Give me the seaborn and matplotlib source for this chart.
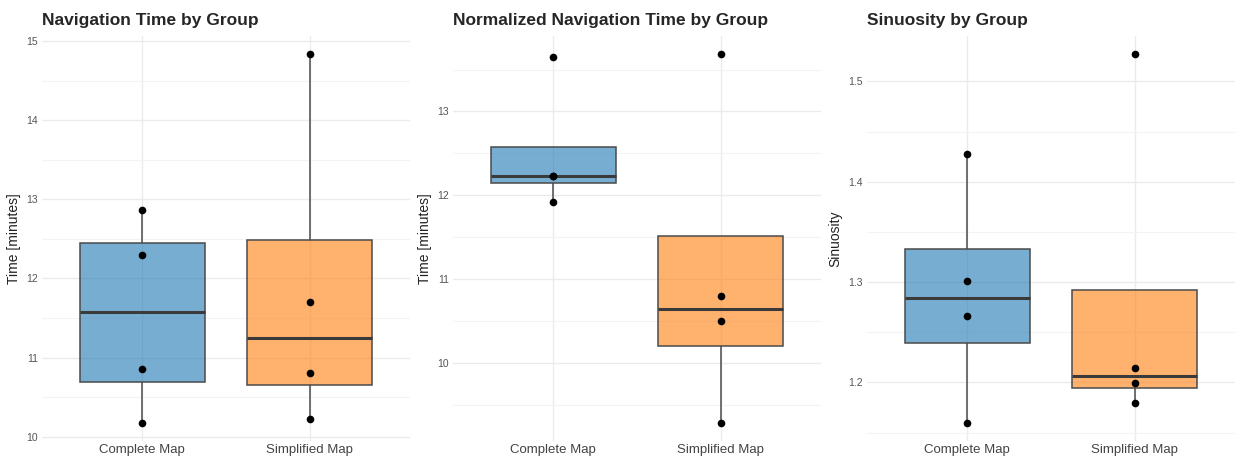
import numpy as np
import pandas as pd
import seaborn as sns
from matplotlib import pyplot as plt
from matplotlib.colors import to_rgba
from matplotlib.ticker import MultipleLocator

groups = ['Complete Map', 'Simplified Map']
colors = ['#1f77b4', '#ff7f0e']

nav_complete = [10.18, 10.86, 12.30, 12.87]
nav_simplified = [10.23, 10.80, 11.70, 14.83]

norm_complete = [11.92, 12.225, 12.225, 13.65]
norm_simplified = [9.29, 10.505, 10.795, 13.68]

sin_complete = [1.160, 1.266, 1.3015, 1.4275]
sin_simplified = [1.1798, 1.1993, 1.2142, 1.527]

panels = [
    ('Navigation Time by Group', 'Time [minutes]', nav_complete, nav_simplified, 1.0),
    ('Normalized Navigation Time by Group', 'Time [minutes]', norm_complete, norm_simplified, 1.0),
    ('Sinuosity by Group', 'Sinuosity', sin_complete, sin_simplified, 0.1),
]

sns.set_theme(style='white')
plt.rcParams['font.family'] = ['Liberation Sans', 'DejaVu Sans']

fig = plt.figure(figsize=(12.36, 4.59), dpi=100)
lefts = [42, 453, 867]
for (title, ylabel, a, b, step), left in zip(panels, lefts):
    ax = fig.add_axes([left / 1236, 1 - 441 / 459, 368 / 1236, (441 - 36) / 459])
    df = pd.DataFrame({'group': [groups[0]] * len(a) + [groups[1]] * len(b),
                       'value': a + b})
    sns.boxplot(data=df, x='group', y='value', hue='group', palette=colors,
                order=groups, hue_order=groups, width=0.75, showfliers=False,
                showcaps=False, linecolor='#4a4a4a', linewidth=1.1, legend=False,
                ax=ax, medianprops=dict(linewidth=2.2, color='#3a3a3a'), zorder=2)
    for patch, c in zip(ax.patches, colors):
        patch.set_facecolor(to_rgba(c, 0.6))
    sns.stripplot(data=df, x='group', y='value', order=groups, jitter=False,
                  color='black', size=5.5, ax=ax, zorder=3)

    lo, hi = min(a + b), max(a + b)
    pad = 0.05 * (hi - lo)
    ax.set_ylim(lo - pad, hi + pad)
    ax.set_xlim(-0.6, 1.6)
    ax.yaxis.set_major_locator(MultipleLocator(step))
    ax.yaxis.set_minor_locator(MultipleLocator(step / 2))
    ax.grid(True, which='major', color='#ebebeb', linewidth=1.0)
    ax.grid(True, which='minor', axis='y', color='#f3f3f3', linewidth=0.8)
    ax.set_axisbelow(True)
    for s in ax.spines.values():
        s.set_visible(False)
    ax.tick_params(axis='both', length=0)
    ax.tick_params(axis='y', labelsize=7.5, labelcolor='#555555', pad=3)
    ax.tick_params(axis='x', labelsize=9.5, labelcolor='#444444', pad=2)
    ax.set_xlabel('')
    ax.set_ylabel(ylabel, fontsize=10, color='#222222', labelpad=4)
    ax.set_title(title, loc='left', fontsize=12.5, fontweight='bold', pad=8)

fig.savefig('out.png', dpi=100)
